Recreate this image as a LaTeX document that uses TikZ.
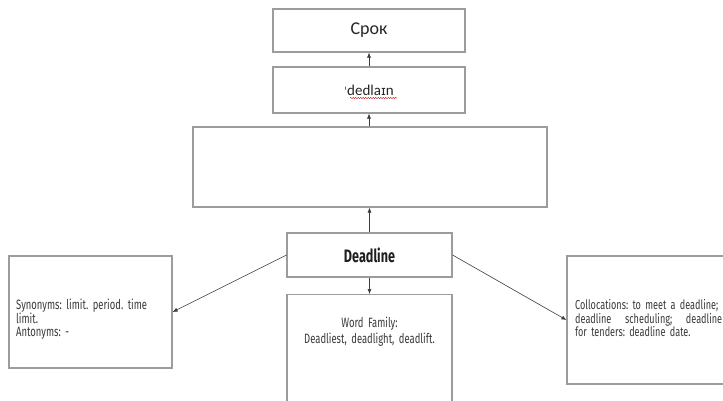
\documentclass[tikz,border=0pt]{standalone}
\usepackage{fontspec}
\usetikzlibrary{arrows.meta,decorations.pathmorphing}
\setmainfont{Carlito}
\newfontfamily\condfont[FakeStretch=0.7]{Fira Sans}
\newfontfamily\ipafont{DejaVu Sans}
\definecolor{boxline}{HTML}{9C9C9C}
\definecolor{inkgray}{HTML}{3A3A3A}
\tikzset{
  card/.style={draw=boxline, line width=1.1pt, fill=white, inner sep=0pt},
  link/.style={draw=inkgray, line width=0.6pt, -{Latex[length=5pt,width=4pt]}},
  note/.style={inner sep=0pt, text=inkgray, execute at begin node=\frenchspacing}
}
\begin{document}
\begin{tikzpicture}[x=1pt,y=-1pt]
  \useasboundingbox (0,0) rectangle (723,400);
  \begin{scope}
    \clip (0,0) rectangle (723,400);
    % boxes of the word map
    \node[card, minimum width=192pt, minimum height=43pt] (srok) at (369,30.5)
      {\fontsize{18}{20}\selectfont\color[HTML]{262626}Срок};
    \node[card, minimum width=192pt, minimum height=46pt] (trans) at (369,90)
      {\color[HTML]{262626}\ipafont\fontsize{11}{13}\selectfont ˈ\rmfamily\fontsize{15}{17}\selectfont dedla\ipafont\fontsize{13}{15}\selectfont ɪ\rmfamily\fontsize{15}{17}\selectfont n};
    \node[card, minimum width=354pt, minimum height=80pt] (blank) at (370,167) {};
    \node[card, minimum width=165pt, minimum height=44pt] (word) at (369.5,255)
      {\condfont\bfseries\fontsize{18}{20}\selectfont\color[HTML]{1E1E1E}Deadline};
    \node[card, minimum width=165pt, minimum height=126pt, anchor=north] (family) at (369.5,294) {};
    \node[note, align=center, anchor=base, text width=160pt, font=\condfont\fontsize{13.5}{16}\selectfont] (familytext) at (369.5,327.5)
      {Word Family:\\Deadliest, deadlight, deadlift.};
    \node[card, minimum width=163pt, minimum height=112pt] (syn) at (90.5,312) {};
    \node[note, align=left, anchor=base west, text width=150pt, font=\condfont\fontsize{13.5}{13.5}\selectfont] (syntext) at (16,309.5)
      {Synonyms: limit. period. time\\limit.\\Antonyms: -};
    \node[card, minimum width=160pt, minimum height=128pt] (coll) at (647,320) {};
    \node[note, align=left, anchor=base west, text width=147pt, font=\condfont\fontsize{13}{13.5}\selectfont] (colltext) at (575,309.5)
      {Collocations: to meet a deadline;\\deadline\hfill scheduling;\hfill deadline\\for tenders: deadline date.};
    % spell-check mark under the transcription
    \draw[red!80!black, line width=0.4pt, decorate,
      decoration={snake, amplitude=0.6pt, segment length=2.5pt}]
      (350,98) -- (397,98);
    % connectors
    \draw[link] (trans.north) -- (srok.south);
    \draw[link] (blank.north -| trans.south) -- (trans.south);
    \draw[link] (word.north) -- (blank.south -| word.north);
    \draw[link] (word.south) -- (family.north);
    \draw[link] (word.west) -- (syn.east);
    \draw[link] (word.east) -- (coll.west);
  \end{scope}
\end{tikzpicture}
\end{document}
